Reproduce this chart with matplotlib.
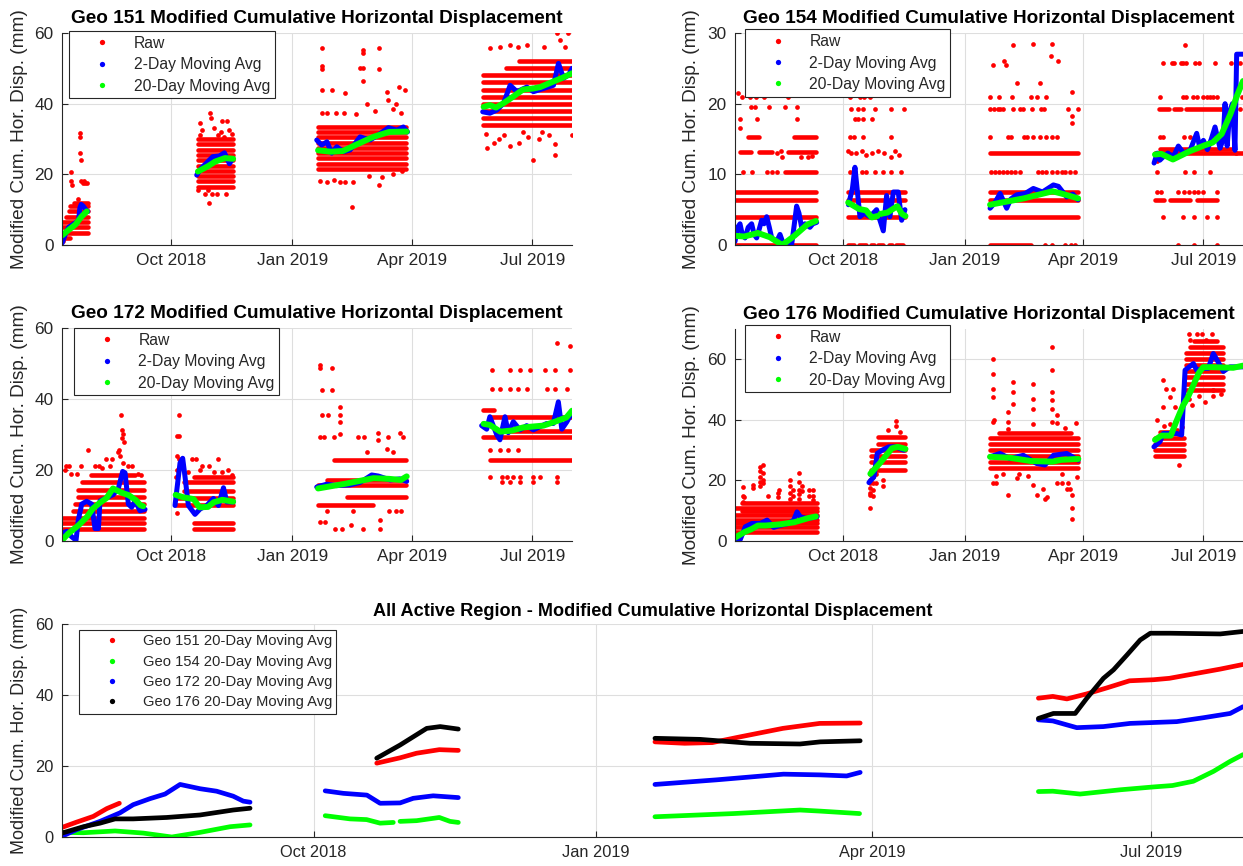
import datetime as dt
import numpy as np
import matplotlib
matplotlib.use('Agg')
import matplotlib.pyplot as plt
import matplotlib.dates as mdates
from matplotlib.lines import Line2D

plt.rcParams['font.family'] = ['Liberation Sans', 'DejaVu Sans']

# all times below are days after 11 Jul 2018
start = dt.datetime(2018, 7, 11)
day_span = 385
tick_dates = [dt.datetime(2018, 10, 1), dt.datetime(2019, 1, 1),
              dt.datetime(2019, 4, 1), dt.datetime(2019, 7, 1)]
tick_labels = ['Oct 2018', 'Jan 2019', 'Apr 2019', 'Jul 2019']

# ---------------- 20-day moving averages (per measurement campaign)
avg20_151 = [([0, 4.8, 10.2, 14.6, 18.7], [2.7, 4.2, 5.8, 8.0, 9.5]),
             ([102.6, 110.2, 115.6, 123, 129.2], [20.8, 22.3, 23.6, 24.6, 24.4]),
             ([193.3, 203, 212, 221, 235, 247, 260.2], [26.8, 26.4, 26.6, 28.2, 30.6, 32, 32.1]),
             ([318.3, 323, 327.6, 334, 340.6, 348, 355.8, 361, 369.9, 377.6, 385],
              [39.1, 39.6, 38.9, 40.3, 42, 44, 44.3, 44.7, 46.1, 47.3, 48.6])]
avg20_154 = [([0, 7, 17.3, 26.5, 35.8, 45, 54.8, 61.3], [1.3, 1.2, 1.7, 1.1, 0.0, 1.3, 2.9, 3.4]),
             ([85.8, 93.9, 99.3, 103.7, 108], [6.0, 5.1, 4.9, 3.9, 4.1]),
             ([110.2, 115.6, 123, 126.5, 129.2], [4.4, 4.6, 5.5, 4.4, 4.1]),
             ([193.3, 218.9, 240.6, 247, 260], [5.7, 6.6, 7.6, 7.3, 6.6]),
             ([318.3, 323, 331.9, 345, 355.8, 362, 368.8, 375.4, 380.8, 385],
              [12.8, 12.9, 12.1, 13.3, 14.1, 14.5, 15.7, 18.5, 21.3, 23.2])]
avg20_172 = [([0, 4.8, 12.4, 18.9, 23.2, 28.7, 33.6, 38.5, 45, 50.4, 55.8, 59.1, 61.3],
              [0.2, 2.1, 4.4, 6.8, 9.1, 10.8, 12.1, 14.8, 13.6, 12.9, 11.5, 10.1, 9.8]),
             ([85.8, 91.7, 99.4, 103.7, 110.2, 114.5, 121, 129.2], [13.0, 12.3, 11.8, 9.5, 9.6, 10.9, 11.6, 11.1]),
             ([193.3, 213.4, 235.2, 247, 255.8, 260.2], [14.8, 16.1, 17.7, 17.5, 17.2, 18.2]),
             ([318.3, 323, 330.8, 339.5, 348.2, 363.4, 372.1, 380.8, 385],
              [33.0, 32.7, 30.8, 31.1, 32.0, 32.5, 33.6, 34.8, 36.7])]
avg20_176 = [([0, 7, 12.4, 17.3, 23.2, 34.1, 45, 55.8, 61.3], [1.1, 2.9, 3.9, 5.1, 5.1, 5.5, 6.2, 7.6, 8.1]),
             ([102.6, 110.2, 118.9, 123.3, 129.2], [22.2, 25.9, 30.6, 31.1, 30.4]),
             ([193.3, 208, 224.3, 240.6, 247.2, 260.2], [27.8, 27.5, 26.4, 26.2, 26.8, 27.1]),
             ([318.3, 323.2, 330.3, 334.1, 339.5, 342.8, 347.2, 351.5, 354.8, 361.3, 377.6, 385],
              [33.4, 34.8, 34.8, 39.1, 44.7, 47.1, 51.3, 55.5, 57.4, 57.4, 57.2, 57.9])]

# ---------------- 2-day moving averages
avg2_151 = [([0, 1.5, 3, 5, 7, 9, 11, 12.5, 13.5, 14.5, 16, 18, 19.5],
             [0.5, 2, 3.5, 5, 5.5, 6, 6.5, 7, 10.5, 11.5, 11, 10, 9.5]),
            ([101.7, 105, 108.8, 113.8, 118.8, 122.6, 126.4, 128.9],
             [19.8, 21.7, 23.1, 25, 25.2, 26.1, 23, 24.5]),
            ([192.3, 196, 200, 203.6, 207.4, 212.5, 217.5, 225, 232.6, 240.1, 246.4, 252.7, 257.7, 260.8],
             [29.7, 28.3, 29.2, 26, 27.8, 26.4, 26.9, 30.6, 29.7, 31.5, 33.2, 32.5, 33.4, 32]),
            ([317.6, 323, 328.3, 333.3, 338.3, 343.4, 350.9, 355.9, 363.5, 371, 374.8, 378.6, 382.4, 385],
             [37.7, 37.3, 38.2, 40.1, 45.2, 43.4, 44.7, 43.4, 44.3, 45.2, 51.4, 47.2, 48.1, 50])]
avg2_154 = [([0, 2, 3.8, 5.5, 7.6, 10, 12.6, 14.5, 16.4, 18, 20.2, 22, 24, 26, 27.8, 31.6, 34.1, 36,
              39.2, 42.9, 45, 46.7, 48.5, 50.5, 53, 56.8, 59, 61.9],
             [0.5, 2.5, 3, 1.5, 1, 2.5, 3, 1.5, 1, 2, 3.5, 3, 4, 2.5, 1, 0.5, 1.5, 0.5,
              0, 0, 3, 5.5, 4.5, 2.5, 3, 2.5, 3, 3.2]),
            ([86, 89, 90.9, 94.7, 98, 102.3, 107.3, 112.4, 114.9, 117.4, 120, 123.7, 126.3, 128.8],
             [5.7, 8, 11, 4, 4.5, 4, 5, 2, 7, 4, 7.5, 7.5, 3.5, 5]),
            ([193.3, 197, 200.9, 205.9, 209, 213.5, 220, 226.1, 233, 241.3, 245.1, 251.4, 256, 260],
             [5.2, 6.0, 7.3, 5.2, 6.5, 7.1, 7.3, 8.0, 7.5, 8.5, 8.3, 6.8, 7.2, 6.4]),
            ([317.6, 320, 322, 324.7, 328, 332.2, 336, 340, 344.9, 349.9, 352, 355, 358, 361, 363.8,
              367.6, 370, 371.4, 373, 375, 377, 378.9, 380.2, 385],
             [11.6, 13, 12, 12.5, 13, 12.5, 14, 13, 13.4, 15.8, 14, 14.8, 13.5, 15, 16.7,
              13.7, 15, 20, 14, 19, 20, 13.4, 27, 27])]
avg2_172 = [([0.3, 3.5, 7.3, 10.6, 12.3, 14.9, 18.6, 22.4, 24.9, 27.5, 28.7, 33.7, 38.8, 42.6, 45.8,
              47.6, 50.1, 52.6, 55.2, 58.9, 62.7],
             [2.2, 2.7, 1.2, 0.2, 5.9, 10.4, 11.2, 10.4, 3.5, 3.5, 11.3, 12.2, 13.1, 14.9, 19.6,
              19.2, 10.4, 9.5, 11.3, 8.5, 8.9]),
            ([85.3, 89.1, 91.1, 92.9, 95.4, 100.4, 104.2, 109.3, 114.3, 118.1, 121.9, 124.4, 129.4],
             [10, 22, 23.3, 18, 10, 7.5, 9, 10, 12, 10, 15, 11, 11]),
            ([192.3, 199.8, 207.4, 217.5, 225, 233.8, 238.8, 247.7, 255.2, 260.2],
             [15.2, 16, 15.6, 15.8, 16.5, 18.6, 18.3, 17.2, 17.5, 16.8]),
            ([316.8, 320.6, 323, 328.1, 330.6, 334.4, 336.9, 340.7, 345.7, 350.8, 355.8, 360.8, 365.9,
              370.9, 374.7, 377.3, 381, 384.8],
             [32.5, 31.5, 35, 30, 28.5, 35, 30.5, 33.6, 31.3, 32.5, 31.3, 32.2, 33.1, 33.1, 39.2,
              31.5, 33.5, 36])]
avg2_176 = [([0.2, 4, 7.8, 12.9, 19.2, 24.3, 29.3, 35.6, 40.7, 44.5, 47, 49.5, 54.6, 62.2],
             [0.9, 0.5, 4.7, 5.8, 5.8, 6.9, 4.5, 5.3, 5.8, 6.9, 9.6, 8, 7.4, 8]),
            ([101.5, 105.3, 107.8, 111.6, 116.6, 121.7, 128],
             [19.3, 21.2, 28.9, 30, 31.1, 31.1, 30]),
            ([193.3, 200.8, 208.4, 218.5, 228.6, 234.9, 241.3, 251.4, 260.2],
             [27.8, 28.9, 27.2, 28.3, 25.6, 25.1, 28.3, 28.9, 26.7]),
            ([317.5, 322.1, 324.6, 334.7, 338.5, 341.1, 347.4, 349.9, 355, 358.7, 362.5, 366.3,
              370.1, 375.1, 385.2],
             [31.1, 32.8, 35.5, 35.5, 35, 56.4, 58.6, 56.4, 57, 57, 61.9, 59, 56, 57.5, 57.5])]

# ---------------- raw readings: dense rows (start day, end day, value) + single readings
rows_151 = [(0, 6, 2.0), (0, 19.5, 3.5), (0, 19.5, 5.0), (0, 19.5, 6.5), (3, 19.5, 8.0),
            (5, 19.5, 9.5), (6, 19.5, 11.0), (9, 19.5, 12.0),
            (103, 129, 16.5), (103, 129, 18), (103, 129, 19.5), (103, 129, 21), (103, 129, 22.5),
            (103, 129, 24), (103, 129, 25.5), (103, 129, 27), (103, 129, 28.5), (103, 129, 30),
            (193, 260, 21.5), (193, 260, 23), (193, 260, 24.5), (193, 260, 26), (193, 260, 27.5),
            (193, 260, 29), (193, 260, 30.5), (193, 260, 32), (193, 260, 33.5),
            (318, 385, 34), (318, 385, 36), (318, 385, 38), (318, 385, 40), (318, 385, 42),
            (318, 385, 44), (318, 385, 46), (318, 385, 48), (335, 385, 50), (345, 385, 52)]
raw_151_t = [6.8, 6.8, 7.5, 13.6, 13.6, 13.6, 14.0, 14.6, 15.5, 16.5, 17.5, 18.5, 12, 0.5, 1,
             104.5, 112, 112.5, 111, 121, 124.5, 117, 124, 108, 106, 115, 120, 126, 110, 104, 118, 122, 128, 103, 113,
             196, 196, 196, 196, 196, 203.6, 213.7, 218.7, 225, 227.6, 227.6, 227.6, 227.6, 239.6, 239.6,
             245.4, 254.3, 259.3, 239, 241.5, 200, 207, 213, 222, 236, 250, 256, 195, 200, 205, 210, 214,
             220, 232, 250, 257, 230, 246, 252,
             323, 331, 338, 344, 351, 364, 373.4, 382.2, 376, 380, 355.8, 321, 372, 372, 338, 330, 345,
             360, 352, 326, 368, 385, 320, 334, 348, 362]
raw_151_v = [20.7, 18.0, 17.0, 31.6, 30.7, 26.0, 24.1, 18.0, 17.5, 18.0, 17.5, 17.5, 13, 1, 2,
             34.6, 37.3, 36.0, 11.8, 35.0, 35.0, 14.5, 14.5, 14.5, 32.5, 33, 32, 32.5, 15.5, 31, 31, 30.5, 31.5, 15.5, 14.5,
             55.7, 50.7, 49.8, 43.9, 37.3, 43.9, 43, 10.8, 50, 55.3, 54.3, 46.3, 50, 55.7, 49.8,
             43.4, 44.6, 43.9, 17, 19.3, 37.3, 37.3, 37.3, 37, 38, 38.5, 37.5, 18, 17.8, 18.5, 17.8, 17.8,
             17.8, 19.5, 20, 21, 40, 41, 40,
             55.7, 56, 56.5, 56, 56.5, 56, 59.9, 59.9, 58, 56, 24.1, 27.4, 25.5, 28.5, 28, 30, 29,
             30, 30.5, 29, 31, 31, 31.5, 31, 32, 32]

rows_154 = [(0, 61.5, 0), (0, 61.5, 4.0), (0, 61.5, 6.4), (0, 61.5, 7.5), (38, 61.5, 10.4),
            (4, 12, 13.2), (18, 28, 13.2), (40, 61.5, 13.2), (45, 61.5, 15.3), (10, 18, 15.3),
            (86, 129, 4.0), (86, 129, 6.4), (86, 129, 7.5), (86, 90, 0), (94, 99, 0), (103, 105, 0),
            (108, 112, 0), (117, 119, 0), (122, 127, 0),
            (193, 224, 0), (193, 260, 4.0), (193, 260, 6.4), (193, 260, 7.5), (193, 260, 13.0),
            (318, 385, 13.0), (322, 376, 13.6), (321, 329, 19.3), (333, 338, 19.3), (342, 372, 19.3),
            (318, 325, 6.4), (330, 345, 6.4), (350, 365, 6.4)]
raw_154_t = [6.3, 12.6, 24, 27.8, 31.6, 4, 4, 17, 47, 12, 15, 26, 38, 47, 5, 11, 16, 22, 40, 32, 35, 36,
             50, 55, 58, 2,
             87, 91, 96, 99, 106, 112, 118, 126, 86, 88, 92, 96, 99, 104, 108, 113, 118, 121, 124,
             87, 90, 97, 118, 91, 93, 97, 104, 88, 93, 97, 106, 118, 128, 87, 95, 98, 102,
             235, 240, 250, 255, 258, 194, 197, 200, 203, 206, 209, 212, 216, 230, 233, 236, 240, 244,
             248, 250, 254, 258, 193, 207, 209, 219, 221, 226, 231, 236, 240, 244, 193.5, 196, 199, 201,
             203, 211, 216, 218, 225, 232, 234, 252, 260, 193, 200, 210, 224, 229, 236, 195.8, 203.9,
             205.4, 211, 214, 226.1, 240, 239.5, 245, 231, 255.2, 255.2, 255.2,
             322, 324, 340, 345, 365, 369, 320, 322.5, 336, 340, 344, 347.5, 351, 355, 365, 324.5,
             339.5, 347.5, 357.5, 365, 320, 341, 347.5, 360, 336, 347.5, 365, 322, 339.5, 342, 347,
             350, 355, 357.5, 360, 362.5, 365, 324.5, 331, 333, 338, 339.5, 342, 348.5, 352, 363.5,
             376, 383, 341.1, 320, 380, 383, 384]
raw_154_v = [10.4, 10.4, 10.4, 10.4, 10.4, 16.5, 17.8, 17.8, 17.8, 19.5, 19.5, 19.5, 19.5, 19.5, 21, 21,
             21, 21, 21, 13, 13.3, 12.5, 12.4, 12.4, 12.6, 21.5,
             10.4, 10.4, 10.4, 10.4, 10.4, 10.4, 10.4, 10.4, 13.3, 13, 13, 13.3, 12.8, 13, 13.3, 13,
             12.5, 13.3, 12.8, 15.3, 15.3, 15.3, 15.3, 17.8, 17.8, 17.8, 17.8, 19.2, 19.2, 19.2, 19.2,
             19.2, 19.2, 21, 21, 21, 21,
             0, 0, 0, 0, 0, 10.4, 10.4, 10.4, 10.4, 10.4, 10.4, 10.4, 10.4, 10.4, 10.4, 10.4, 10.4,
             10.4, 10.4, 10.4, 10.4, 10.4, 15.3, 15.3, 15.3, 15.3, 15.3, 15.3, 15.3, 15.3, 15.3, 15.3,
             19.3, 19.3, 19.3, 19.3, 19.3, 19.3, 19.3, 19.3, 19.3, 19.3, 19.3, 19.3, 19.3, 21, 21, 21,
             21, 21, 21, 25.5, 26, 25.5, 28.3, 22.9, 28.5, 28.5, 26.8, 26, 22.9, 21.6, 18.2, 17.3,
             15.3, 15.3, 15.3, 15.3, 15.3, 15.3, 7.5, 7.5, 7.5, 7.5, 7.5, 7.5, 7.5, 7.5, 7.5, 4.0,
             4.0, 4.0, 4.0, 4.0, 10.4, 10.4, 10.4, 10.4, 0, 0, 0, 21, 21, 21, 21,
             21, 21, 21, 21, 21, 21, 25.7, 25.7, 25.7, 25.7, 25.7, 25.7, 25.7, 25.7, 25.7,
             25.7, 25.7, 28.3, 11.9, 13, 19.3, 21]

rows_172 = [(0, 62, 3.5), (0, 62, 5.0), (0, 62, 6.5), (8, 62, 8.5), (10, 62, 10.5), (12, 62, 12.5),
            (12, 62, 14.5), (15, 62, 16.5), (22, 55, 18.5),
            (86, 129, 10.0), (86, 129, 12.0), (92, 129, 14.0), (92, 129, 16.5), (100, 129, 18.0),
            (100, 129, 3.5), (100, 129, 5.0),
            (193, 260, 15.8), (200, 260, 17.2), (205, 260, 22.8), (193, 235, 10.2), (215, 260, 12.5),
            (318, 385, 29.4), (323, 385, 35.0), (318, 326, 36.9), (323, 385, 22.8), (330, 385, 31.0)]
raw_172_t = [5, 14, 19.9, 25, 28, 33, 38, 42, 44.3, 45, 46, 45.5, 47, 44, 43, 46, 50, 53, 2, 7, 11, 3,
             30, 36, 57, 60,
             87, 88, 88.5, 87, 88, 87, 90, 98, 101, 106, 111, 118, 125, 86, 87, 95, 104, 115, 121, 128,
             194.8, 194.8, 203.6, 196, 203.6, 196, 201, 209.9, 209.9, 209.9, 195, 198, 205, 210, 223.7,
             228, 238.8, 246, 255, 257.7, 238.8, 194.8, 198.5, 206, 211, 218, 227.5, 240, 240, 247,
             252, 256, 220, 200, 230, 245, 250,
             324.3, 330.6, 338.2, 344.5, 350.8, 365.9, 372.2, 381, 324.3, 338.2, 345.7, 353.3, 364.6,
             372.2, 383.5, 373.4, 383.5, 323.1, 331.9, 335.7, 340.7, 345.7, 355.8, 360.8, 373.4,
             331.9, 338.2, 345.7, 355.8, 373.4, 323.1, 330.6, 336.9, 344.5]
raw_172_v = [21, 21, 25.6, 21, 21, 23, 23, 25, 35.5, 31.3, 30, 29, 28, 24, 25.5, 22, 21, 21, 20, 19, 19,
             21, 20.5, 21, 19, 18.5,
             29.5, 29.5, 35.5, 24, 23, 20, 21, 23, 23, 21, 21, 23, 20, 18, 8, 19.5, 20, 19.5, 19.5, 18.5,
             49.6, 48.6, 48.6, 42.5, 42.5, 35.5, 35.5, 37.8, 35.5, 33.6, 29.4, 29.4, 29.4, 30, 29.4,
             29.4, 30.3, 29.4, 30.3, 29.4, 28.5, 5.4, 5.4, 3.5, 3.5, 4.5, 3.5, 3.5, 5.8, 8.5,
             8.5, 8.5, 8.5, 8.5, 25, 26, 25,
             42.9, 42.9, 42.9, 42.9, 42.9, 42.9, 42.9, 42.9, 48.2, 48.2, 48.2, 48.2, 48.2,
             48.2, 48.2, 55.7, 54.8, 18.1, 18.1, 18.1, 18.1, 18.1, 18.1, 18.1, 18.1,
             16.7, 16.7, 16.7, 16.7, 16.7, 25.6, 25.6, 25.6, 25.6]

rows_176 = [(0, 62, 3.0), (0, 62, 4.5), (0, 62, 6.0), (0, 62, 7.0), (0, 62, 8.5), (5, 62, 10.0),
            (0, 62, 11.0), (5, 62, 12.5),
            (103, 129, 23.5), (103, 129, 26), (103, 129, 28), (103, 129, 30), (108, 129, 32),
            (108, 129, 34.5),
            (193, 260, 24), (193, 260, 26), (193, 260, 28), (193, 260, 30), (193, 260, 32),
            (193, 260, 34), (200, 255, 35.5),
            (318, 340, 28), (318, 340, 30), (318, 340, 32), (318, 340, 34), (322, 338, 36),
            (342, 370, 50), (342, 370, 52), (342, 370, 54), (342, 370, 56), (342, 370, 58),
            (342, 370, 60), (342, 370, 62), (345, 370, 64), (348, 365, 66)]
raw_176_t = [6.3, 6.3, 6.3, 6.8, 13.4, 13.4, 19, 19, 19, 19, 19, 21.5, 21.5, 21.5, 21.5, 25.3, 32.8,
             32.8, 33.5, 41.7, 41.7, 41.7, 41.7, 44.2, 44.2, 48.8, 48.8, 48.8, 48.8, 48.8, 51, 51,
             56.3, 56.3, 59.4, 59.4, 59.4,
             102.3, 102.3, 102.3, 102.3, 102.3, 102.3, 102.3, 104.8, 104.8, 104.8, 104.8, 107, 107,
             107, 112.4, 112.4, 122, 122, 116, 125,
             195.3, 195.3, 195.3, 195.3, 195.3, 196, 211, 211, 211, 206.7, 206.7, 206.7, 226, 226,
             226, 226, 240, 240, 240, 240, 240, 240, 243.8, 243.8, 250, 258.4, 255.2, 255.2, 255.2,
             254, 195.3, 197.8, 206.7, 213.5, 226, 228.6, 233.6, 234.9, 236.2, 243.8, 247.6, 251.4,
             252.7, 258.9, 198, 203, 215, 222, 248,
             324.6, 324.6, 327, 329.7, 332.2, 333.5, 336, 338.5, 339.7, 336.7, 320, 325, 330, 335,
             344, 350, 354, 361.5, 345, 357, 346.2, 356.2, 362.5, 362.5, 368, 344, 352]
raw_176_v = [13, 15, 17.9, 14.5, 17.5, 18.5, 24.5, 23, 21, 19.5, 18, 25, 22.5, 20, 19, 15, 16,
             14.5, 17, 20, 18, 16, 14, 17, 15, 22.5, 19.5, 17, 15.5, 14, 18, 16.5,
             15, 17, 17, 15, 13.5,
             22, 20, 19, 17.5, 16, 15.2, 10.8, 21, 19, 17, 15, 25, 22,
             19, 20, 18, 39.6, 38, 36.5, 36,
             60.2, 55.3, 50.3, 47.6, 39.3, 40, 52.5, 49.2, 45.4, 42.6, 39.3, 37, 52, 47,
             43.7, 38.5, 64.1, 56.4, 49.2, 46.5, 43.5, 39.3, 41.5, 39, 37.2, 38.8, 15.2, 10.8, 7.1,
             17.3, 19.1, 19.1, 15.2, 20.7, 18.6, 15.2, 17.3, 13.9, 14.6, 19.1, 19.1, 17.3,
             19.1, 21.2, 21.5, 22, 22, 21.5, 22,
             53.1, 44.3, 50.3, 47.6, 50.3, 44.3, 41, 37.7, 46, 25.1, 40, 38, 38.5, 36.6,
             68.5, 68.5, 68.5, 68.5, 66.3, 66.3, 44.8, 46, 49.8, 48, 48.5, 47, 48]

RED, BLUE, GREEN, BLACK = (1, 0, 0), (0, 0, 1), (0, 1, 0), (0, 0, 0)
D0 = mdates.date2num(start)
INK = '#262626'


def days(t):
    return D0 + np.asarray(t, dtype=float)


def style(ax, ylim, yticks, tick_size, label_size, label_x):
    ax.set_xlim(D0, D0 + day_span)
    ax.set_ylim(*ylim)
    ax.set_yticks(yticks)
    ax.set_xticks(mdates.date2num(tick_dates))
    ax.set_xticklabels(tick_labels)
    for s in ['top', 'right']:
        ax.spines[s].set_visible(False)
    for s in ['left', 'bottom']:
        ax.spines[s].set_color(INK)
        ax.spines[s].set_linewidth(0.8)
    ax.set_axisbelow(True)
    ax.grid(True, color='#dedede', lw=0.8)
    ax.tick_params(direction='in', length=4, width=0.8, colors=INK, labelsize=tick_size, pad=6)
    ax.set_ylabel('Modified Cum. Hor. Disp. (mm)', fontsize=label_size, color=INK)
    ax.yaxis.set_label_coords(label_x, 0.5)


def geo_panel(ax, name, rows, raw_t, raw_v, avg2, avg20, ylim, yticks, label_x, leg_xy):
    for a, b, v in rows:
        ax.plot(days([a, b]), [v, v], color=RED, lw=3.3, solid_capstyle='round')
    ax.plot(days(raw_t), raw_v, ls='none', marker='o', ms=3.4, mew=0, color=RED)
    for t, v in avg2:
        ax.plot(days(t), v, color=BLUE, lw=3.6, solid_joinstyle='round', solid_capstyle='round')
    for t, v in avg20:
        ax.plot(days(t), v, color=GREEN, lw=4.3, solid_joinstyle='round', solid_capstyle='round')
    style(ax, ylim, yticks, 12.4, 13.7, label_x)
    ax.set_title(name + ' Modified Cumulative Horizontal Displacement',
                 fontsize=13.7, fontweight='bold', pad=7)
    handles = [Line2D([], [], ls='none', marker='o', ms=3.8, mew=0, color=c) for c in (RED, BLUE, GREEN)]
    leg = ax.legend(handles, ['Raw', '2-Day Moving Avg', '20-Day Moving Avg'], loc='upper left',
                    bbox_to_anchor=leg_xy, borderaxespad=0, fancybox=False, framealpha=1,
                    edgecolor=INK, fontsize=11.3, handlelength=3.6, handletextpad=0.2,
                    borderpad=0.3, labelspacing=0.41)
    leg.get_frame().set_linewidth(0.8)
    for txt in leg.get_texts():
        txt.set_color(INK)


fig = plt.figure(figsize=(12.43, 8.66), dpi=100)
ax1 = fig.add_axes([0.04988, 0.71709, 0.41030, 0.24480])
ax2 = fig.add_axes([0.59131, 0.71709, 0.40869, 0.24480])
ax3 = fig.add_axes([0.04988, 0.37529, 0.41030, 0.24596])
ax4 = fig.add_axes([0.59131, 0.37529, 0.40869, 0.24480])
ax5 = fig.add_axes([0.04988, 0.03349, 0.95012, 0.24596])

geo_panel(ax1, 'Geo 151', rows_151, raw_151_t, raw_151_v, avg2_151, avg20_151,
          (0, 60), [0, 20, 40, 60], -0.067, (0.0143, 1.0094))
geo_panel(ax2, 'Geo 154', rows_154, raw_154_t, raw_154_v, avg2_154, avg20_154,
          (0, 30), [0, 10, 20, 30], -0.068, (0.0197, 1.017))
geo_panel(ax3, 'Geo 172', rows_172, raw_172_t, raw_172_v, avg2_172, avg20_172,
          (0, 60), [0, 20, 40, 60], -0.067, (0.0235, 1.0))
geo_panel(ax4, 'Geo 176', rows_176, raw_176_t, raw_176_v, avg2_176, avg20_176,
          (0, 70), [0, 20, 40, 60], -0.068, (0.0197, 1.019))

# bottom: all 20-day averages together
for series, c in [(avg20_151, RED), (avg20_154, GREEN), (avg20_172, BLUE), (avg20_176, BLACK)]:
    for t, v in series:
        ax5.plot(days(t), v, color=c, lw=3.4, solid_joinstyle='round', solid_capstyle='round')
style(ax5, (0, 60), [0, 20, 40, 60], 11.8, 13.0, -0.0285)
ax5.set_title('All Active Region - Modified Cumulative Horizontal Displacement',
              fontsize=13.1, fontweight='bold', pad=6)
handles = [Line2D([], [], ls='none', marker='o', ms=3.8, mew=0, color=c) for c in (RED, GREEN, BLUE, BLACK)]
leg = ax5.legend(handles, ['Geo 151 20-Day Moving Avg', 'Geo 154 20-Day Moving Avg',
                           'Geo 172 20-Day Moving Avg', 'Geo 176 20-Day Moving Avg'],
                 loc='upper left', bbox_to_anchor=(0.01465, 0.9718), borderaxespad=0,
                 fancybox=False, framealpha=1, edgecolor=INK, fontsize=10.6, handlelength=3.8,
                 handletextpad=0.2, borderpad=0.3, labelspacing=0.43)
leg.get_frame().set_linewidth(0.8)
for txt in leg.get_texts():
    txt.set_color(INK)

fig.savefig('out.png', dpi=100)
